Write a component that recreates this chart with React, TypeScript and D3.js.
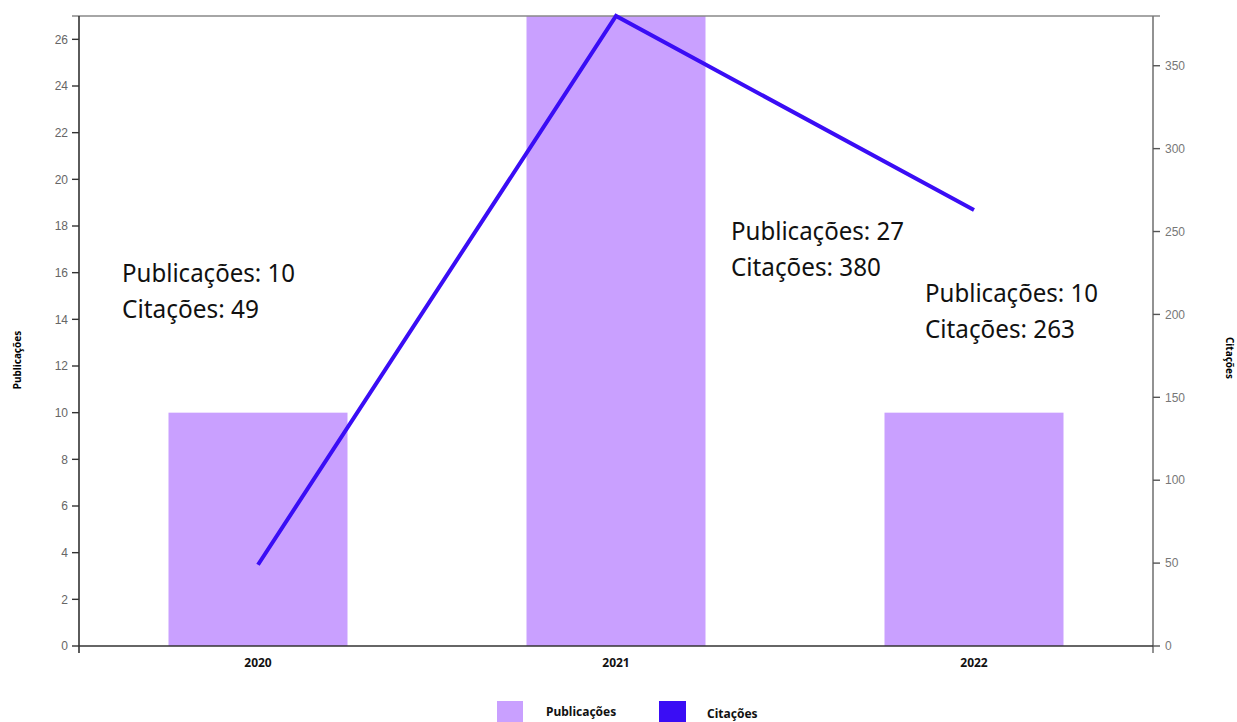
import React from "react";
import * as d3 from "d3";

const years = ["2020", "2021", "2022"];
const publicacoes = [10, 27, 10];
const citacoes = [49, 380, 263];
const pubTicks = [0, 2, 4, 6, 8, 10, 12, 14, 16, 18, 20, 22, 24, 26];
const citTicks = [0, 50, 100, 150, 200, 250, 300, 350];

const W = 1237;
const H = 722;
const left = 79;
const right = 1153;
const top = 16;
const bottom = 646;

const BAR = "#c9a0ff";
const LINE = "#3a0df5";

export default function App() {
  const x = d3
    .scaleBand<string>()
    .domain(years)
    .range([left, right])
    .paddingInner(0.5)
    .paddingOuter(0.25);
  const yPub = d3.scaleLinear().domain([0, 27]).range([bottom, top]);
  const yCit = d3.scaleLinear().domain([0, 380]).range([bottom, top]);

  const line = d3
    .line<number>()
    .x((_, i) => (x(years[i]) as number) + x.bandwidth() / 2)
    .y((d) => yCit(d));

  // annotation blocks placed near each year
  const notes = [
    { x: 122, y: 282 },
    { x: 731, y: 240 },
    { x: 925, y: 302 },
  ];

  const tickFont = "'Liberation Sans', Arial, sans-serif";
  const labelFont = "'Noto Sans', sans-serif";

  return (
    <svg
      width={W}
      height={H}
      style={{ position: "absolute", left: 0, top: 0, background: "#fff" }}
    >
      {/* bars */}
      {publicacoes.map((v, i) => (
        <rect
          key={years[i]}
          x={x(years[i])}
          y={yPub(v)}
          width={x.bandwidth()}
          height={bottom - yPub(v)}
          fill={BAR}
        />
      ))}

      {/* top frame line */}
      <line x1={72} x2={1160} y1={top} y2={top} stroke="#888" strokeWidth={1.5} />

      {/* left axis */}
      <line x1={left} x2={left} y1={top} y2={bottom + 7} stroke="#333" strokeWidth={1.6} />
      {pubTicks.map((t) => (
        <g key={t}>
          <line x1={72} x2={left} y1={yPub(t)} y2={yPub(t)} stroke="#333" strokeWidth={1.4} />
          <text
            x={68}
            y={yPub(t)}
            dy="0.35em"
            textAnchor="end"
            fontFamily={tickFont}
            fontSize={12}
            fill="#666"
          >
            {t}
          </text>
        </g>
      ))}

      {/* right axis */}
      <line x1={right} x2={right} y1={top} y2={bottom + 7} stroke="#777" strokeWidth={1.6} />
      {citTicks.map((t) => (
        <g key={t}>
          <line x1={right} x2={1160} y1={yCit(t)} y2={yCit(t)} stroke="#555" strokeWidth={1.4} />
          <text
            x={1165}
            y={yCit(t)}
            dy="0.35em"
            textAnchor="start"
            fontFamily={tickFont}
            fontSize={12}
            fill="#777"
          >
            {t}
          </text>
        </g>
      ))}

      {/* bottom axis */}
      <line x1={left} x2={right} y1={bottom} y2={bottom} stroke="#333" strokeWidth={1.6} />
      {years.map((yr) => (
        <text
          key={yr}
          x={(x(yr) as number) + x.bandwidth() / 2}
          y={667}
          textAnchor="middle"
          fontFamily={labelFont}
          fontWeight="bold"
          fontSize={12}
          fill="#111"
        >
          {yr}
        </text>
      ))}

      {/* citation line */}
      <path
        d={line(citacoes) ?? ""}
        fill="none"
        stroke={LINE}
        strokeWidth={4}
        strokeLinejoin="miter"
      />

      {/* value annotations */}
      {notes.map((n, i) => (
        <g key={i} fontFamily={labelFont} fontSize={25} fill="#111">
          <text x={n.x} y={n.y} textLength={173} lengthAdjust="spacingAndGlyphs">
            {`Publicações: ${publicacoes[i]}`}
          </text>
          <text
            x={n.x}
            y={n.y + 36}
            textLength={i === 0 ? 137 : 150}
            lengthAdjust="spacingAndGlyphs"
          >
            {`Citações: ${citacoes[i]}`}
          </text>
        </g>
      ))}

      {/* axis titles */}
      <text
        transform="translate(21,360) rotate(-90)"
        textAnchor="middle"
        fontFamily={labelFont}
        fontWeight="bold"
        fontSize={10}
        fill="#000"
      >
        Publicações
      </text>
      <text
        transform="translate(1226,358) rotate(90)"
        textAnchor="middle"
        fontFamily={labelFont}
        fontWeight="bold"
        fontSize={10}
        fill="#000"
      >
        Citações
      </text>

      {/* legend */}
      <rect x={497} y={701} width={26} height={24} fill={BAR} />
      <text x={546} y={716} fontFamily={labelFont} fontWeight="bold" fontSize={12} fill="#111">
        Publicações
      </text>
      <rect x={659} y={701} width={27} height={24} fill={LINE} />
      <text x={707} y={718} fontFamily={labelFont} fontWeight="bold" fontSize={12} fill="#111">
        Citações
      </text>
    </svg>
  );
}
